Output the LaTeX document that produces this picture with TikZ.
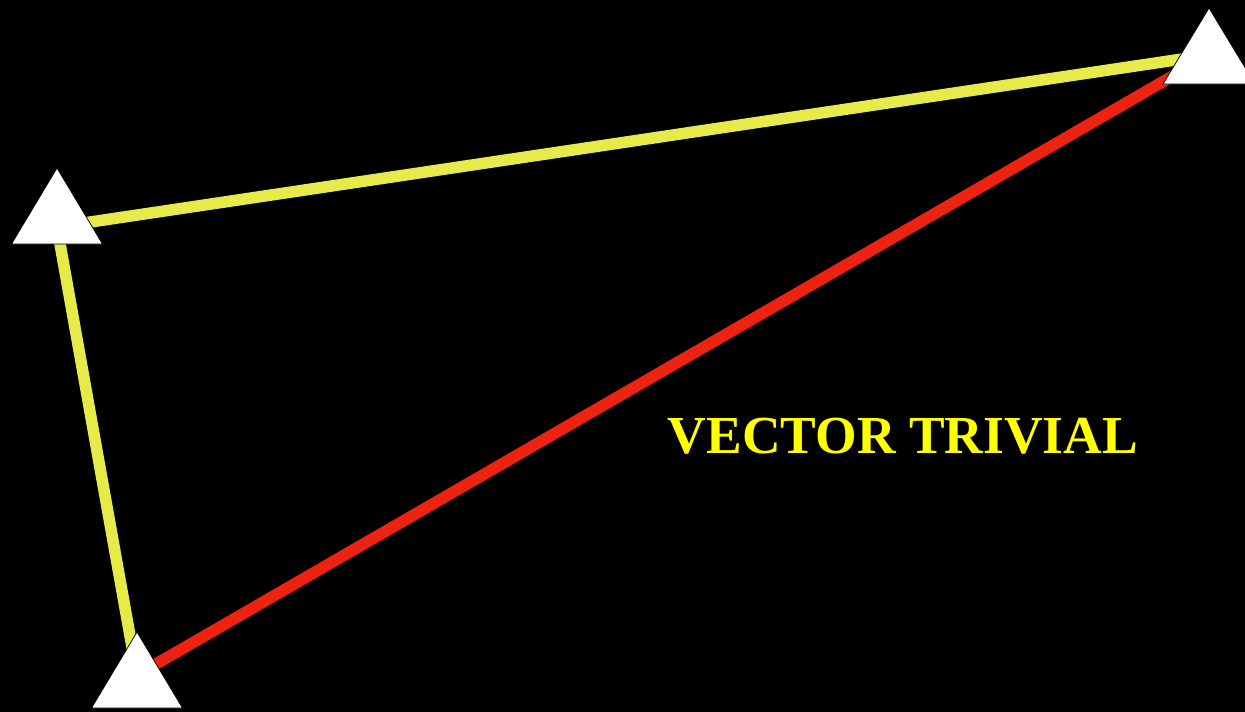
\documentclass[tikz,border=0pt]{standalone}
\usepackage{fontspec}
\setmainfont{Liberation Serif}
\definecolor{lineyellow}{HTML}{E6EB4A}
\definecolor{linered}{HTML}{EE2210}
\definecolor{textyellow}{HTML}{FFFF00}
\tikzset{
  leg/.style={line width=11.5pt},
  marker/.style={fill=white, draw=black, line width=0.8pt},
}
\begin{document}
\begin{tikzpicture}[x=1pt,y=-1pt]
  \fill[black] (0,0) rectangle (1245,712);
  \useasboundingbox (0,0) rectangle (1245,712);
  \coordinate (A) at (57,227);
  \coordinate (B) at (137,675);
  \coordinate (C) at (1209,55);
  \draw[leg, lineyellow] (A) -- (C);
  \draw[leg, lineyellow] (A) -- (B);
  \draw[leg, linered] (B) -- (C);
  % triangles
  \coordinate (Atop) at (57,168);
  \coordinate (Btop) at (137,632);
  \coordinate (Ctop) at (1209,8);
  \path[marker] (Atop) -- ++(45.5,76) -- ++(-91,0) -- cycle;
  \path[marker] (Btop) -- ++(45.5,76) -- ++(-91,0) -- cycle;
  \path[marker] (Ctop) -- ++(46,76) -- ++(-92,0) -- cycle;
  \node[text=textyellow, font=\fontsize{53.5}{58}\selectfont\bfseries] (label) at (903,436) {VECTOR TRIVIAL};
\end{tikzpicture}
\end{document}
